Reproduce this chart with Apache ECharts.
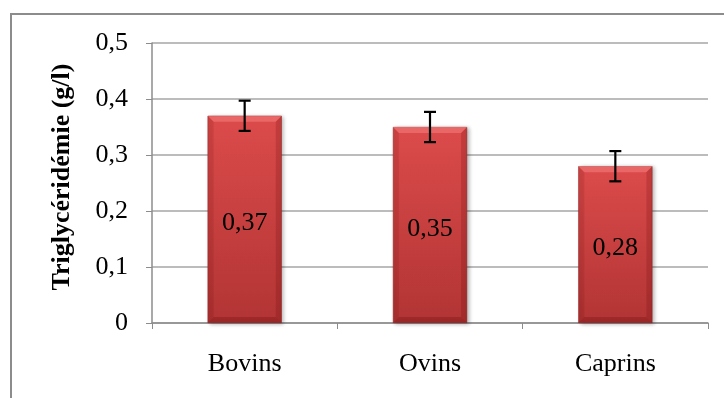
<!DOCTYPE html>
<html>
<head>
<meta charset="utf-8">
<script src="https://cdn.jsdelivr.net/npm/echarts@6/dist/echarts.min.js"></script>
<style>
  html, body { margin: 0; padding: 0; background: #fff; }
  #chart { width: 724px; height: 398px; }
</style>
</head>
<body>
<div id="chart"></div>
<script>
// Triglycéridémie moyenne par espèce, avec écart (barres d'erreur)
const categories = ['Bovins', 'Ovins', 'Caprins'];
const values = [0.37, 0.35, 0.28];
const errors = [0.027, 0.027, 0.027];
const yTicks = [0, 0.1, 0.2, 0.3, 0.4, 0.5];

const fmt = v => String(v).replace('.', ',');
const serif = '"Liberation Serif", "DejaVu Serif", serif';
const BAR_RATIO = 0.4;

const chart = echarts.init(document.getElementById('chart'));

const barFill = new echarts.graphic.LinearGradient(0, 0, 0, 1, [
  { offset: 0, color: '#dc4b4b' },
  { offset: 1, color: '#b23434' }
]);

// bevelled edges drawn over each bar
function bevel(params, api) {
  const base = api.coord([api.value(0), 0]);
  const top = api.coord([api.value(0), api.value(1)]);
  const w = api.size([1, 0])[0] * BAR_RATIO;
  const x0 = base[0] - w / 2, x1 = base[0] + w / 2;
  const y0 = top[1], y1 = base[1];
  const b = 6;
  const poly = (pts, fill) => ({ type: 'polygon', shape: { points: pts }, style: { fill: fill }, silent: true });
  return {
    type: 'group',
    children: [
      poly([[x0, y0], [x1, y0], [x1 - b, y0 + b], [x0 + b, y0 + b]], 'rgba(255,140,140,0.45)'),
      poly([[x0, y1], [x1, y1], [x1 - b, y1 - b], [x0 + b, y1 - b]], 'rgba(80,0,0,0.22)'),
      poly([[x0, y0], [x0 + b, y0 + b], [x0 + b, y1 - b], [x0, y1]], 'rgba(90,0,0,0.10)'),
      poly([[x1, y0], [x1 - b, y0 + b], [x1 - b, y1 - b], [x1, y1]], 'rgba(90,0,0,0.18)')
    ]
  };
}

chart.setOption({
  animation: false,
  graphic: [{
    type: 'rect',
    shape: { x: 11, y: 14, width: 740, height: 420 },
    style: { fill: 'none', stroke: '#8c8c8c', lineWidth: 2 },
    z: -1
  }],
  grid: { left: 152, right: 16, top: 43, bottom: 75 },
  xAxis: {
    type: 'category',
    data: categories,
    axisLine: { lineStyle: { color: '#8c8c8c', width: 1.5 } },
    axisTick: { show: true, length: 6, lineStyle: { color: '#8c8c8c' } },
    axisLabel: { color: '#000', fontFamily: serif, fontSize: 26, margin: 28 }
  },
  yAxis: {
    type: 'value',
    min: yTicks[0],
    max: yTicks[yTicks.length - 1],
    interval: 0.1,
    name: 'Triglycéridémie (g/l)',
    nameLocation: 'middle',
    nameGap: 77,
    nameRotate: 90,
    nameTextStyle: { color: '#000', fontFamily: serif, fontSize: 26, fontWeight: 'bold', padding: [0, 0, 0, 12] },
    axisLine: { show: true, lineStyle: { color: '#8c8c8c', width: 1.5 } },
    axisTick: { show: true, length: 6, lineStyle: { color: '#8c8c8c' } },
    axisLabel: { color: '#000', fontFamily: serif, fontSize: 26, margin: 24, formatter: v => fmt(Math.round(v * 10) / 10) },
    splitLine: { lineStyle: { color: '#a6a6a6', width: 1.5 } }
  },
  series: [
    {
      type: 'bar',
      data: values,
      barWidth: (BAR_RATIO * 100) + '%',
      itemStyle: {
        color: barFill,
        borderColor: '#9a2a2a',
        borderWidth: 0.5,
        shadowColor: 'rgba(0,0,0,0.3)',
        shadowBlur: 4,
        shadowOffsetX: 2,
        shadowOffsetY: 1
      },
      label: {
        show: true,
        position: 'inside',
        offset: [0, 4],
        color: '#000',
        fontFamily: serif,
        fontSize: 26,
        formatter: p => fmt(p.value)
      },
      z: 2
    },
    {
      type: 'custom',
      z: 3,
      silent: true,
      data: values.map((v, i) => [i, v]),
      renderItem: bevel
    },
    {
      type: 'custom',
      z: 5,
      data: values.map((v, i) => [i, v - errors[i], v + errors[i]]),
      renderItem: (params, api) => {
        const lo = api.coord([api.value(0), api.value(1)]);
        const hi = api.coord([api.value(0), api.value(2)]);
        const cap = 6;
        const st = { stroke: '#000', lineWidth: 2.2 };
        return {
          type: 'group',
          children: [
            { type: 'line', shape: { x1: hi[0], y1: hi[1], x2: lo[0], y2: lo[1] }, style: st },
            { type: 'line', shape: { x1: hi[0] - cap, y1: hi[1], x2: hi[0] + cap, y2: hi[1] }, style: st },
            { type: 'line', shape: { x1: lo[0] - cap, y1: lo[1], x2: lo[0] + cap, y2: lo[1] }, style: st }
          ]
        };
      }
    }
  ]
});
</script>
</body>
</html>
